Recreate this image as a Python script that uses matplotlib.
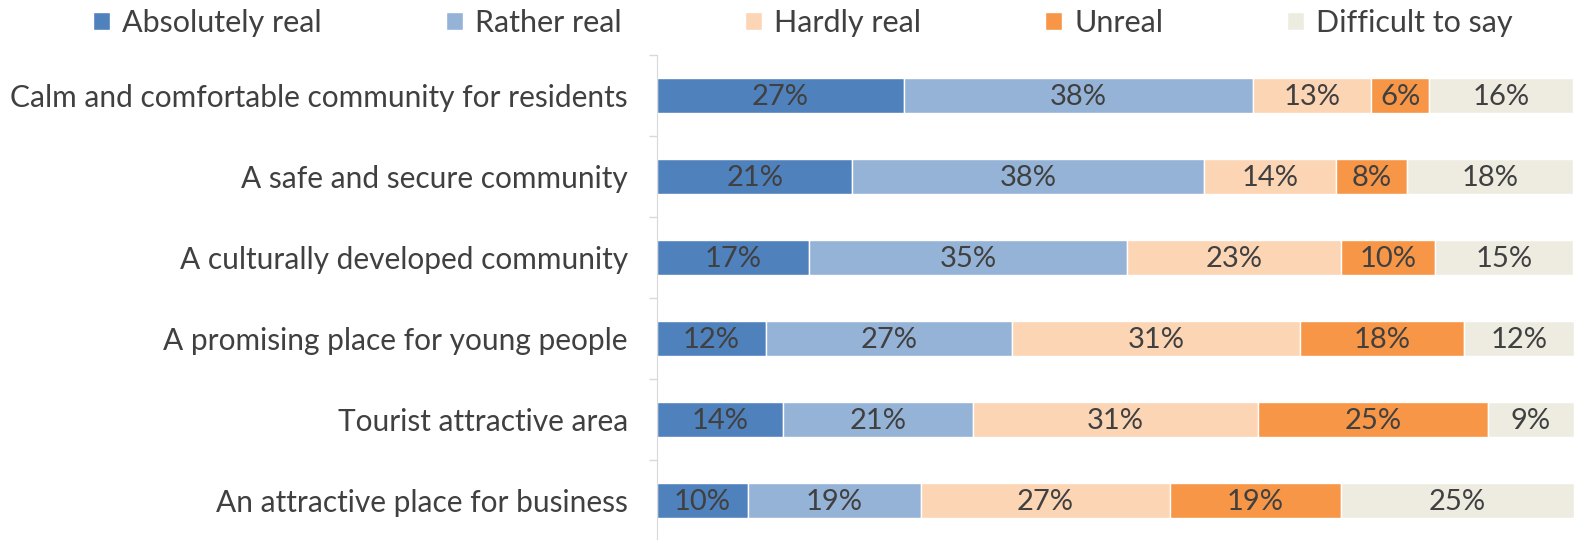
import numpy as np
import matplotlib.pyplot as plt

plt.rcParams['font.family'] = ['Lato', 'DejaVu Sans']

categories = ['Calm and comfortable community for residents',
              'A safe and secure community',
              'A culturally developed community',
              'A promising place for young people',
              'Tourist attractive area',
              'An attractive place for business']
series = ['Absolutely real', 'Rather real', 'Hardly real', 'Unreal', 'Difficult to say']
# shares; labels show them rounded
absolutely = [26.9, 21.3, 16.6, 11.9, 13.7, 9.9]
rather = [38.1, 38.4, 34.6, 26.8, 20.8, 18.9]
hardly = [12.9, 14.4, 23.4, 31.4, 31.0, 27.1]
unreal = [6.3, 7.7, 10.2, 17.9, 25.1, 18.7]
difficult = [15.7, 18.1, 15.1, 12.0, 9.4, 25.4]
colors = ['#4F81BD', '#95B3D7', '#FCD5B5', '#F79646', '#EEECE1']
text_color = '#404040'

fig = plt.figure(figsize=(15.76, 5.4), dpi=100)
ax = fig.add_axes([657 / 1576, -1 / 540, 917 / 1576, 486 / 540])

y = np.arange(len(categories))
left = np.zeros(len(categories))
for name, vals, c in zip(series, [absolutely, rather, hardly, unreal, difficult], colors):
    vals = np.array(vals)
    bars = ax.barh(y, vals, left=left, height=0.42, color=c, edgecolor='white',
                   linewidth=1, label=name)
    for b, v in zip(bars, vals):
        ax.text(b.get_x() + b.get_width() / 2, b.get_y() + b.get_height() / 2 + 0.02,
                f'{round(v)}%', ha='center', va='center', fontsize=21, color=text_color)
    left += vals

ax.set_xlim(0, 100)
ax.set_ylim(len(categories) - 0.5, -0.5)
ax.set_yticks(y)
ax.set_yticklabels(categories, fontsize=21.5, color=text_color)
ax.set_yticks(np.arange(-0.5, len(categories), 1), minor=True)
ax.tick_params(axis='y', which='major', length=0, pad=21)
ax.tick_params(axis='y', which='minor', length=6, color='#D9D9D9', width=1)
ax.set_xticks([])
for s in ['top', 'right', 'bottom']:
    ax.spines[s].set_visible(False)
ax.spines['left'].set_color('#D9D9D9')

fig.legend(loc='upper center', bbox_to_anchor=(0.5095, 1.035), ncol=5, frameon=False,
           fontsize=22, labelcolor=text_color, handlelength=0.55, handleheight=0.55,
           handletextpad=0.4, columnspacing=4.05)

fig.savefig('out.png', dpi=100)
